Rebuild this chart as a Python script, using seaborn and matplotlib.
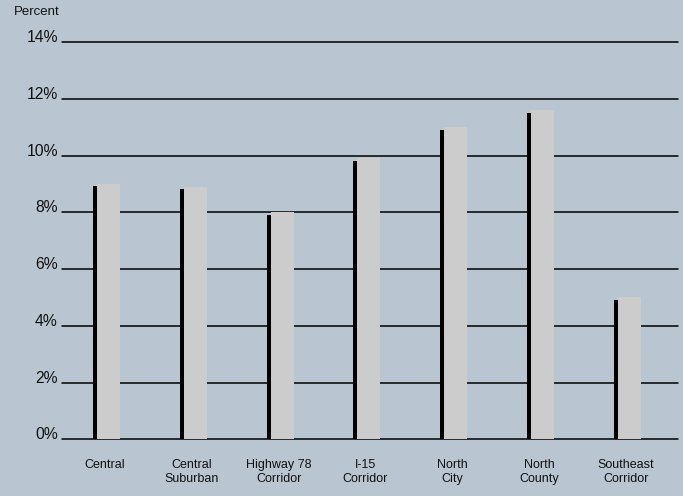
import matplotlib
matplotlib.use("Agg")
import matplotlib.pyplot as plt
from matplotlib.patches import Rectangle
import seaborn as sns
import pandas as pd

regions = ["Central", "Central\nSuburban", "Highway 78\nCorridor", "I-15\nCorridor",
           "North\nCity", "North\nCounty", "Southeast\nCorridor"]
values = [9.0, 8.9, 8.0, 9.9, 11.0, 11.6, 5.0]
yticks = [0, 2, 4, 6, 8, 10, 12, 14]
ytick_labels = [f"{v}%" for v in yticks]

BG = "#b9c6d1"
sns.set_theme(style="white")
plt.rcParams["font.family"] = ["Liberation Sans", "DejaVu Sans"]

fig = plt.figure(figsize=(6.83, 4.96), dpi=100, facecolor=BG)
W, H = 683, 496
ax = fig.add_axes([62 / W, 1 - 439.3 / H, (678 - 62) / W, (439.3 - 42) / H])
ax.set_facecolor(BG)

df = pd.DataFrame({"region": regions, "value": values})
sns.barplot(data=df, x="region", y="value", color="#cccccc", saturation=1,
            width=0.265, ax=ax, zorder=3, linewidth=0)

shift = 0.04
sw = 0.046
for p in ax.patches[:len(values)]:
    x0 = p.get_x() + shift
    p.set_x(x0)
    h = p.get_height()
    ax.add_patch(Rectangle((x0 - sw, 0), sw, h - 0.09, facecolor="black",
                           edgecolor="none", zorder=3))

ax.set_xlim(-0.495, 6.60)
ax.set_ylim(0, 14)
ax.set_yticks(yticks)
ax.set_yticklabels(ytick_labels, fontsize=11.3, va="baseline")
ax.tick_params(axis="y", length=0, pad=3, colors="#111111")
ax.tick_params(axis="x", length=0, pad=14, labelsize=9, colors="#111111")
for lbl in ax.get_xticklabels():
    lbl.set_linespacing(1.2)
ax.set_xlabel("")
ax.set_ylabel("")
for s in ax.spines.values():
    s.set_visible(False)
ax.grid(axis="y", color="black", linewidth=1.1, zorder=1)
ax.set_axisbelow(True)
for gl in ax.get_ygridlines():
    gl.set_clip_on(False)

fig.text(14 / W, 1 - 12 / H, "Percent", fontsize=9.5, va="center", ha="left",
         color="#111111")

fig.savefig("out.png", dpi=100, facecolor=BG)
